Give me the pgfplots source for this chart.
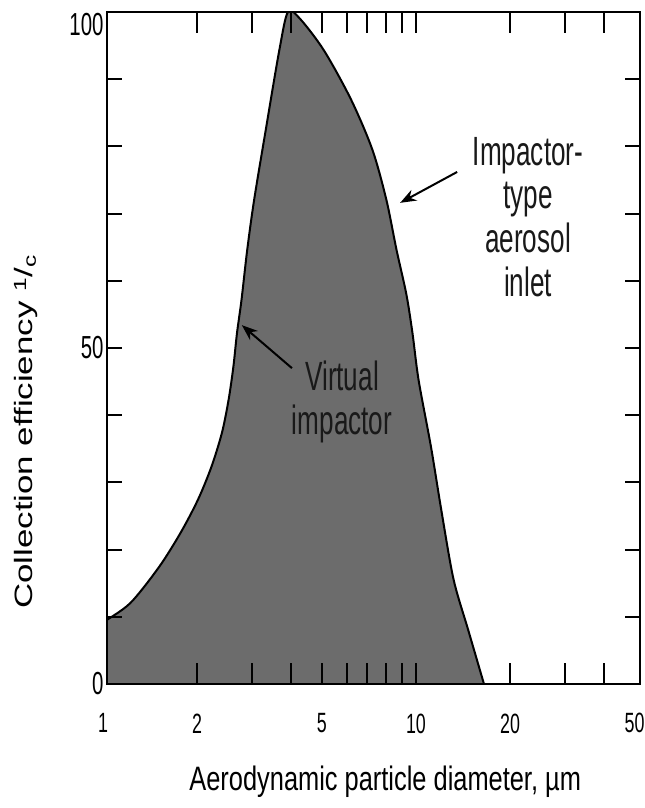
\documentclass[border=0pt]{standalone}
\usepackage{pgfplots}
\pgfplotsset{compat=1.18}
\usepackage{fontspec}
\usetikzlibrary{arrows.meta,calc}
\setmainfont{Liberation Sans}[FakeStretch=0.75]
\newfontfamily\narrowfont{Liberation Sans}[FakeStretch=0.64]
\newfontfamily\plainfont{Liberation Sans}
\definecolor{fillgray}{RGB}{108,108,108}
% tick labels as text boxes, so that size and font hold in math mode too
\newcommand{\xl}[1]{\hbox{\narrowfont\fontsize{28}{30}\selectfont #1}}
\newcommand{\yl}[1]{\hbox{\narrowfont\fontsize{32}{34}\selectfont #1}}

\begin{document}
\begin{tikzpicture}
\begin{axis}[
    scale only axis,
    width=533bp, height=672bp,
    xmode=log,
    xmin=1.03, xmax=52,
    ymin=0, ymax=100,
    axis on top,
    tick align=inside,
    axis line style={line width=2.5bp},
    every tick/.style={black, line width=2bp},
    major tick length=15bp,
    xtick={2,3,4,5,6,7,8,9,10,20,30,40},
    xticklabels={\xl{2},,,\xl{5},,,,,\xl{10},\xl{20},,},
    xtick style={/pgfplots/major tick length=21bp},
    extra x ticks={10},
    extra x tick labels={},
    extra x tick style={/pgfplots/major tick length=36bp},
    ytick={0,10,...,90},
    yticklabels={\yl{0},,,,,\yl{50},,,,},
    extra y ticks={100},
    extra y tick labels={\yl{100}},
    extra y tick style={yticklabel style={yshift=-13bp}},
    minor tick num=0,
    xticklabel style={yshift=-26bp},
    xlabel={Aerodynamic particle diameter, µm},
    xlabel style={font=\fontsize{34}{38}\selectfont, at={(axis description cs:0.522,-0.146)}, anchor=center},
    ylabel={Collection efficiency \textsuperscript{1}/\textsubscript{c}},
    ylabel style={font=\plainfont\fontsize{35}{38}\selectfont, at={(axis description cs:-0.152,0.375)}, anchor=center, rotate=0, yscale=0.72},
]
\addplot[fill=fillgray, draw=black, line width=2bp, smooth, tension=0.5] table {
x y
1.00 9.2
1.22 12.0
1.51 17.4
1.77 22.5
2.01 27.4
2.22 32.3
2.40 37.4
2.52 42.3
2.61 47.2
2.68 52.2
2.77 57.1
2.89 64.6
3.04 72.0
3.30 82.0
3.66 94.3
3.90 100
4.26 99.0
5.08 94.3
6.20 87.0
7.26 79.5
8.05 72.0
8.67 64.6
9.32 58.0
9.75 52.2
10.2 45.2
11.17 35.3
12.1 25.4
13.2 15.5
14.7 8.0
16.5 0
} \closedcycle;
\coordinate (sw) at (rel axis cs:0,0);
\coordinate (ne) at (rel axis cs:1,1);
\coordinate (tick1) at (axis cs:1,0);
\coordinate (tick50) at (axis cs:50,0);
\node[font=\narrowfont\fontsize{41}{44}\selectfont, align=center, text=black!90]
    at (rel axis cs:0.441,0.420) {Virtual\\impactor};
\draw[-{Stealth[length=16bp,width=12bp]}, line width=2bp]
    (rel axis cs:0.347,0.470) -- (rel axis cs:0.253,0.534);
\node[font=\narrowfont\fontsize{41}{44}\selectfont, align=center, text=black!90]
    at (rel axis cs:0.790,0.695) {Impactor-\\type\\aerosol\\inlet};
\draw[-{Stealth[length=16bp,width=12bp]}, line width=2bp]
    (rel axis cs:0.657,0.762) -- (rel axis cs:0.550,0.716);
\end{axis}
% end labels of the log axis, which lie just outside its range
\node[anchor=north, yshift=-26bp] at (tick1) {\xl{1}};
\node[anchor=north, yshift=-26bp] at (tick50) {\xl{50}};
\pgfresetboundingbox
\path[use as bounding box] ($(sw)+(-107bp,-124bp)$) rectangle ($(ne)+(5bp,12bp)$);
\end{tikzpicture}
\end{document}
